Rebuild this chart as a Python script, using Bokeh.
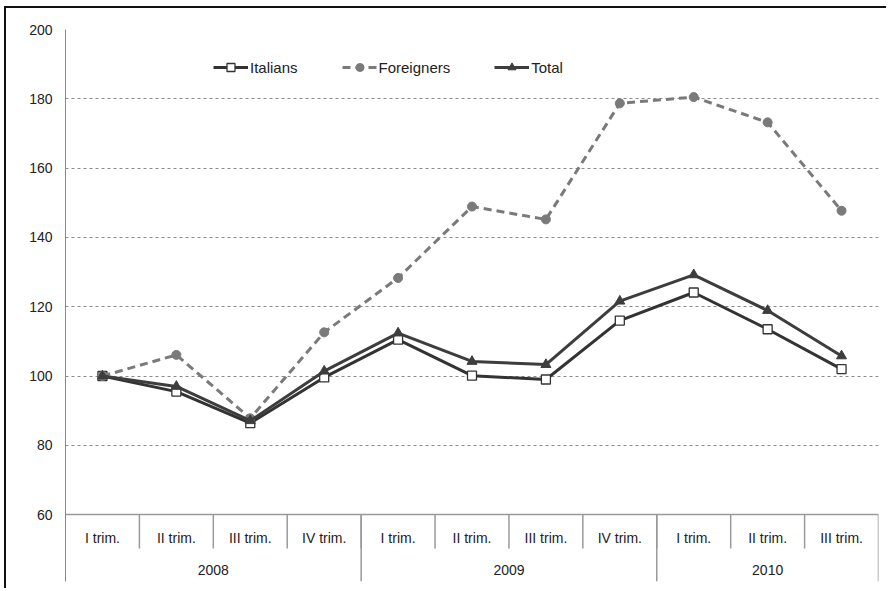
from bokeh.plotting import figure
from bokeh.models import Range1d, FixedTicker, Legend, LegendItem, ColumnDataSource
from bokeh.embed import file_html
from bokeh.resources import INLINE
from bokeh.core.properties import value

years = ["2008", "2009", "2010"]
quarters_per_year = [4, 4, 3]
quarters = ["I trim.", "II trim.", "III trim.", "IV trim.",
            "I trim.", "II trim.", "III trim.", "IV trim.",
            "I trim.", "II trim.", "III trim."]
italians = [100.0, 95.5, 86.4, 99.6, 110.5, 100.1, 99.0, 116.0, 124.1, 113.5, 102.0]
foreigners = [100.0, 106.1, 87.8, 112.6, 128.3, 148.9, 145.2, 178.7, 180.5, 173.2, 147.7]
total = [100.0, 97.0, 87.1, 101.4, 112.4, 104.2, 103.3, 121.6, 129.2, 118.9, 105.8]
y_ticks = [60, 80, 100, 120, 140, 160, 180, 200]

FONT = "Liberation Sans"
LOW = 40.7  # bottom of frame (room for the category table)

n = len(quarters)
xs = [i + 0.5 for i in range(n)]

p = figure(width=882, height=582, output_backend="svg", toolbar_location=None,
           x_range=Range1d(0, n), y_range=Range1d(LOW, 200),
           min_border_left=59, min_border_right=10, min_border_top=21, min_border_bottom=9)
p.styles = {"border-top": "2px solid #111", "border-left": "2px solid #111",
            "margin-left": "4px", "margin-top": "6px"}
p.outline_line_color = None
p.xaxis.visible = False
p.xgrid.visible = False

yax = p.yaxis[0]
yax.ticker = FixedTicker(ticks=y_ticks)
yax.axis_line_color = "#8a8a8a"
yax.axis_line_width = 1
yax.major_tick_line_color = None
yax.minor_tick_line_color = None
yax.major_tick_out = 0
yax.major_tick_in = 0
yax.major_label_standoff = 13
yax.major_label_text_font = FONT
yax.major_label_text_font_size = "14px"
yax.major_label_text_color = "#222222"

p.ygrid.ticker = FixedTicker(ticks=y_ticks[1:])
p.ygrid.grid_line_color = "#8a8a8a"
p.ygrid.grid_line_dash = "3 3"
p.ygrid.grid_line_width = 1

# category table below the plot area
p.segment(x0=[0], y0=[60], x1=[n], y1=[60], line_color="#9a9a9a", line_width=1.5)
qdiv = [i for i in range(1, n)]
p.segment(x0=qdiv, y0=[60] * len(qdiv), x1=qdiv, y1=[50.2] * len(qdiv),
          line_color="#9a9a9a", line_width=1.5)
ydiv = []
acc = 0
for c in quarters_per_year:
    acc += c
    ydiv.append(acc)
p.segment(x0=ydiv, y0=[60] * len(ydiv), x1=ydiv, y1=[LOW] * len(ydiv),
          line_color="#9a9a9a", line_width=1.5)
p.text(x=xs, y=[60] * n, text=quarters, y_offset=23, text_align="center",
       text_baseline="middle", text_font=value(FONT), text_font_size="14px",
       text_color="#222222")
ycent = []
start = 0
for c in quarters_per_year:
    ycent.append(start + c / 2)
    start += c
p.text(x=ycent, y=[60] * len(years), text=years, y_offset=55, text_align="center",
       text_baseline="middle", text_font=value(FONT), text_font_size="14px",
       text_color="#222222")

src = ColumnDataSource(dict(x=xs, it=italians, fo=foreigners, to=total))

l1 = p.line("x", "it", source=src, line_color="#333333", line_width=3)
m1 = p.scatter("x", "it", source=src, marker="square", size=9, fill_color="white",
               line_color="#333333", line_width=1.3)
l2 = p.line("x", "fo", source=src, line_color="#7a7a7a", line_width=3, line_dash="8 5")
m2 = p.scatter("x", "fo", source=src, marker="circle", size=9, fill_color="#7a7a7a",
               line_color="#7a7a7a")
l3 = p.line("x", "to", source=src, line_color="#3d3d3d", line_width=3)
m3 = p.scatter("x", "to", source=src, marker="triangle", size=10, fill_color="#3d3d3d",
               line_color="#3d3d3d")

legend = Legend(items=[LegendItem(label="Italians", renderers=[l1, m1]),
                       LegendItem(label="Foreigners", renderers=[l2, m2]),
                       LegendItem(label="Total", renderers=[l3, m3])],
                orientation="horizontal", location=(148, 504),
                glyph_width=35, glyph_height=20, label_height=20, label_standoff=2,
                spacing=44, padding=0, margin=0,
                border_line_color=None, background_fill_alpha=0,
                label_text_font=FONT, label_text_font_size="15px",
                label_text_color="#222222")
p.add_layout(legend, "center")

open("out.html", "w").write(file_html(p, INLINE))
